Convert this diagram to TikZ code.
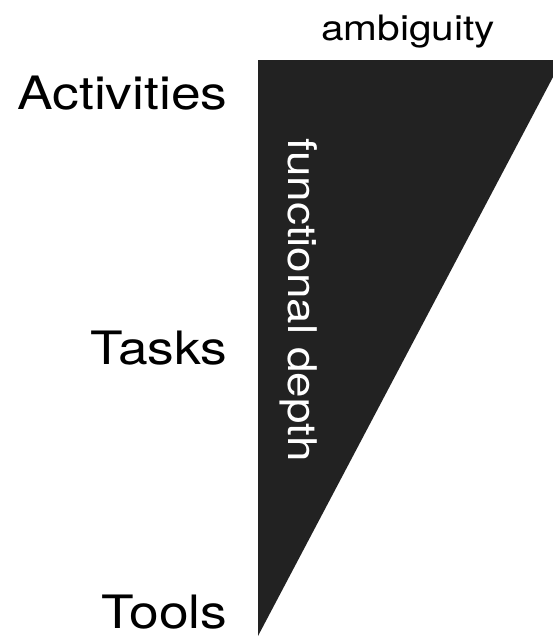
\documentclass[tikz,border=0pt]{standalone}
\usepackage{fontspec}
\setmainfont{TeX Gyre Heros}[FakeStretch=1.16]
\definecolor{wedgegray}{HTML}{222222}

\begin{document}
\begin{tikzpicture}[
        x=1pt, y=-1pt,
        level/.style={anchor=base east, font=\fontsize{46}{52}\selectfont},
        axis/.style={font=\fontsize{35}{40}\selectfont},
        depth/.style={font=\fontsize{39.5}{45}\selectfont, text=white, rotate=-90, inner sep=0pt}
    ]
        \useasboundingbox (0,0) rectangle (553,638);

        % Wedge, cut off at the right border
        \begin{scope}
            \clip (0,0) rectangle (553,638);
            \fill[wedgegray] (258,60) -- (562,60) -- (258,636) -- cycle;
        \end{scope}

        % Levels
        \node[level] (activities) at (231,109) {Activities};
        \node[level] (tasks) at (231,364) {Tasks};
        \node[level] (tools) at (231,628) {Tools};

        % Axes
        \node[axis, anchor=base] (ambiguity) at (408,40) {ambiguity};
        \node[depth] (fdepth) at (299,300) {functional depth};
    \end{tikzpicture}
\end{document}
